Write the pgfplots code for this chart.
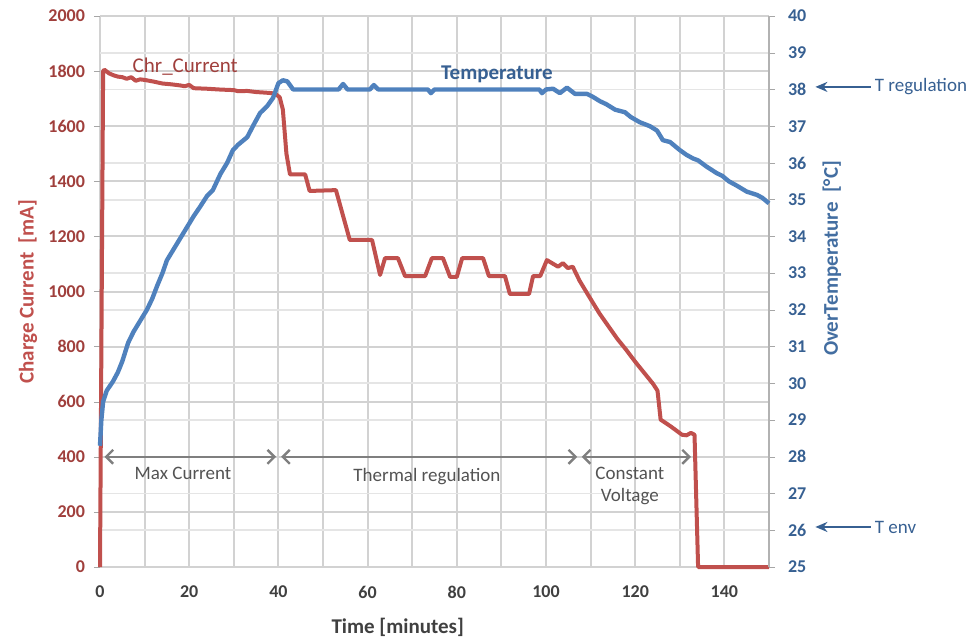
\documentclass[border=0pt]{standalone}
\usepackage{fontspec}
\setmainfont{Carlito}
\usepackage{pgfplots}
\pgfplotsset{compat=1.18}
\usetikzlibrary{arrows.meta}

\definecolor{curr}{HTML}{C0504D}
\definecolor{currtxt}{HTML}{A03F3C}
\definecolor{temp}{HTML}{4F81BD}
\definecolor{temptxt}{HTML}{376092}
\definecolor{ann}{HTML}{7F7F7F}
\definecolor{xtxt}{HTML}{404040}

\begin{document}
\begin{tikzpicture}
\begin{axis}[
  scale only axis,
  width=334.5pt, height=275.5pt,
  xmin=0, xmax=150, ymin=0, ymax=2000,
  xtick={0,10,...,150},
  xticklabels={0,,20,,40,,60,,80,,100,,120,,140,},
  ytick={0,200,...,2000},
  xmajorgrids, ymajorgrids,
  major grid style={gray!35, line width=1pt},
  axis line style={draw=none},
  ytick pos=left, xtick pos=bottom,
  tick align=outside,
  major tick length=3pt,
  tick style={gray!70},
  xtick style={/pgfplots/major tick length=0pt},
  /pgf/number format/assume math mode=true,
  /pgf/number format/1000 sep={},
  yticklabel style={font=\fontsize{9}{10}\selectfont\bfseries, text=currtxt, xshift=-1pt},
  xticklabel style={font=\fontsize{9}{10}\selectfont\bfseries, text=xtxt, yshift=-3pt},
  xlabel={Time [minutes]},
  xlabel style={font=\fontsize{10.5}{12}\selectfont\bfseries, text=xtxt, at={(axis description cs:0.445,-0.109)}, anchor=center},
  ylabel={Charge Current\ \ [mA]},
  ylabel style={font=\fontsize{10.5}{12}\selectfont\bfseries, text=curr, at={(axis description cs:-0.108,0.5)}, anchor=center},
  clip=false,
]
% horizontal grid: right-axis degrees (light) and left-axis 200 mA steps
\pgfplotsinvokeforeach{133.33,266.67,533.33,666.67,933.33,1066.67,1333.33,1466.67,1733.33,1866.67}{
  \draw[gray!20, line width=0.9pt] (axis cs:0,#1) -- (axis cs:150,#1);
}
\pgfplotsinvokeforeach{200,400,...,2000}{
  \draw[gray!35, line width=1pt] (axis cs:0,#1) -- (axis cs:150,#1);
}
\addplot[curr, line width=2pt, line join=round] coordinates {
  (0,0) (0.7,1800) (1.0,1805) (2,1792) (3,1785) (4,1780) (5,1778) (6,1772)
  (7,1778) (8,1765) (9,1770) (10,1768) (12,1762) (14,1755) (16,1752)
  (18,1748) (19,1745) (20,1750) (21,1738) (24,1736) (27,1733) (30,1731)
  (31,1727) (33,1728) (35,1724) (37,1722) (38.5,1720) (39.5,1715)
  (40.3,1705) (41,1660) (41.8,1500) (42.6,1425) (46,1425) (47,1365)
  (52.9,1368) (56,1187) (61,1187) (62.8,1060) (63.9,1121) (66.8,1121)
  (68.4,1056) (72.9,1056) (74.4,1121) (76.9,1121) (78.5,1053) (80,1053)
  (81.2,1121) (85.9,1121) (87.2,1056) (90.8,1056) (91.9,991) (96.2,991)
  (97.1,1056) (98.7,1056) (100.2,1114) (102.7,1090) (103.8,1103)
  (104.9,1085) (106,1090) (107.5,1040) (109.2,994) (112,920) (114.3,867)
  (116,828) (118,788) (120,745) (122,705) (124,665) (125,640) (125.7,535)
  (128,510) (130.5,480) (131.5,478) (132.5,487) (133.3,480) (134.1,0)
  (150,0)
};
\node[font=\fontsize{10.5}{12}\selectfont, text=currtxt] at (axis cs:19.1,1818) {Chr\_Current};
% phase arrows
\draw[ann, line width=1.2pt, {Straight Barb[length=3.5pt,width=7pt]}-{Straight Barb[length=3.5pt,width=7pt]}]
  (axis cs:1,400) -- (axis cs:39.5,400);
\draw[ann, line width=1.2pt, {Straight Barb[length=3.5pt,width=7pt]}-{Straight Barb[length=3.5pt,width=7pt]}]
  (axis cs:40.6,400) -- (axis cs:107,400);
\draw[ann, line width=1.2pt, {Straight Barb[length=3.5pt,width=7pt]}-{Straight Barb[length=3.5pt,width=7pt]}]
  (axis cs:108,400) -- (axis cs:132.5,400);
\node[font=\fontsize{9.5}{12}\selectfont, text=xtxt!90] at (axis cs:18.6,338) {Max Current};
\node[font=\fontsize{9.5}{12}\selectfont, text=xtxt!90] at (axis cs:73.3,330) {Thermal regulation};
\node[font=\fontsize{9.5}{11}\selectfont, text=xtxt!90, align=center] at (axis cs:118.8,294) {Constant\\Voltage};
\end{axis}

\begin{axis}[
  scale only axis,
  width=334.5pt, height=275.5pt,
  xmin=0, xmax=150, ymin=25, ymax=40,
  axis x line=none,
  axis y line*=right,
  ytick={25,...,40},
  tick align=outside,
  major tick length=3pt,
  y axis line style={gray!60, line width=0.8pt},
  tick style={gray!70},
  /pgf/number format/assume math mode=true,
  yticklabel style={font=\fontsize{9}{10}\selectfont\bfseries, text=temptxt, xshift=3pt},
  ylabel={OverTemperature\ \ [°C]},
  ylabel style={font=\fontsize{10.5}{12}\selectfont\bfseries, text=temp!85!black, at={(axis description cs:1.094,0.56)}, anchor=center},
  clip=false,
]
\addplot[temp, line width=2.2pt, line join=round] coordinates {
  (0,28.3) (0.3,29.0) (0.7,29.5) (1.5,29.8) (2.9,30.05) (4,30.3) (5,30.6)
  (6.3,31.1) (7.5,31.4) (9,31.7) (10.5,32.0) (11.7,32.3) (12.8,32.65)
  (14,33.0) (15,33.35) (16.5,33.65) (18,33.95) (19.5,34.25) (21,34.55)
  (22.4,34.8) (24,35.1) (25.3,35.26) (27,35.7) (28.5,36.0) (29.8,36.35)
  (31,36.5) (33,36.7) (34.5,37.05) (35.9,37.36) (37.5,37.55) (38.8,37.77)
  (40,38.17) (41,38.25) (42,38.22) (43.3,38.0) (53.5,38.0) (54.5,38.15)
  (55.5,38.0) (60.5,38.0) (61.4,38.12) (62.4,38.0) (73.5,38.0) (74.2,37.9)
  (75,38.0) (98.5,38.0) (99.1,37.9) (100,38.0) (101.6,38.02) (103.1,37.9)
  (104.7,38.05) (106.5,37.88) (109.2,37.88) (110.5,37.8) (112.1,37.68)
  (113.5,37.6) (115.5,37.45) (117.7,37.38) (119,37.25) (121,37.11)
  (123.3,37.0) (124.9,36.88) (126.2,36.62) (127.8,36.57) (130,36.35)
  (131.5,36.22) (133,36.12) (134.1,36.07) (136,35.9) (138.3,35.72)
  (139.5,35.65) (141,35.5) (142.8,35.38) (145,35.22) (146,35.18)
  (147.3,35.13) (148.5,35.05) (149.8,34.92) (150,34.9)
};
\node[font=\fontsize{10.5}{12}\selectfont\bfseries, text=temptxt] at (axis cs:89,38.42) {Temperature};
\draw[temptxt, line width=1pt, -{Stealth[length=6pt,width=5pt]}] (axis cs:172.8,38.07) -- (axis cs:160.4,38.07);
\node[font=\fontsize{9.5}{12}\selectfont, text=temptxt, anchor=west, inner sep=1pt] at (axis cs:173.2,38.07) {T regulation};
\draw[temptxt, line width=1pt, -{Stealth[length=6pt,width=5pt]}] (axis cs:172.8,26.09) -- (axis cs:160.4,26.09);
\node[font=\fontsize{9.5}{12}\selectfont, text=temptxt, anchor=west, inner sep=1pt] at (axis cs:173.2,26.09) {T env};
\end{axis}
\pgfresetboundingbox
\path[use as bounding box] (-50pt,-36pt) rectangle (436.5pt,283.5pt);
\end{tikzpicture}
\end{document}
